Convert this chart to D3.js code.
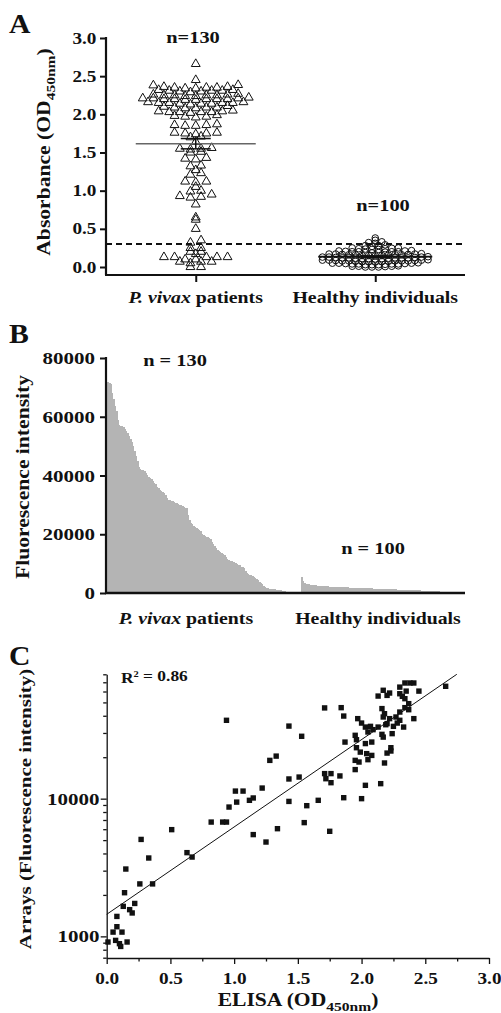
<!DOCTYPE html>
<html><head><meta charset="utf-8">
<script src="https://cdn.jsdelivr.net/npm/d3@7"></script>
<style>
html,body{margin:0;padding:0;background:#fff;}
svg{display:block;}
text{font-family:"Liberation Serif","Times New Roman",serif;font-weight:bold;fill:#111;}
</style></head><body>
<svg id="chart" width="501" height="1013"></svg>
<script>
// ---------------- DATA ----------------
const groups = ["P. vivax patients", "Healthy individuals"];
const groupN = [130, 100];

// Panel A: ELISA OD450nm per individual
const elisaPatients = [
  2.66, 2.45,
  2.38, 2.385, 2.36, 2.35, 2.34, 2.35, 2.36, 2.34, 2.35,
  2.30, 2.31, 2.32, 2.31, 2.30, 2.32, 2.31, 2.29,
  2.25, 2.26, 2.24, 2.25, 2.27, 2.25, 2.24, 2.26, 2.25,
  2.20, 2.21, 2.19, 2.20, 2.22, 2.20, 2.21, 2.19, 2.20, 2.21, 2.20,
  2.15, 2.14, 2.16, 2.15, 2.13, 2.15, 2.16, 2.14, 2.15, 2.14,
  2.09, 2.10, 2.08, 2.09, 2.11, 2.09, 2.08,
  2.03, 2.04, 2.02, 2.03, 2.05, 2.03, 2.04, 2.03,
  1.97, 1.98, 1.96, 1.97, 1.99,
  1.85, 1.86, 1.87, 1.86, 1.85,
  1.76, 1.75, 1.74, 1.75, 1.76,
  1.70, 1.71, 1.64,
  1.55, 1.56, 1.54, 1.55, 1.50, 1.51,
  1.42, 1.43, 1.41, 1.32, 1.33, 1.27, 1.23, 1.21,
  1.12, 1.12, 1.11, 1.05, 0.99, 1.00,
  0.95, 0.92, 0.93, 0.91, 0.82, 0.65, 0.62, 0.50,
  0.35, 0.32, 0.25, 0.25, 0.20, 0.20, 0.17,
  0.13, 0.13, 0.13, 0.13, 0.13, 0.10, 0.10,
  0.07, 0.07, 0.07, 0.05, 0.00, 0.00
];
const elisaHealthy = [
  0.00, 0.01, 0.00, 0.01, 0.015, 0.005, 0.01, 0.00,
  0.03, 0.04, 0.05, 0.04, 0.03, 0.05, 0.04, 0.045, 0.035, 0.05, 0.04, 0.03, 0.055, 0.045,
  0.07, 0.08, 0.09, 0.08, 0.07, 0.085, 0.075, 0.09, 0.08, 0.065, 0.095, 0.08, 0.07, 0.09, 0.085, 0.075, 0.08,
  0.11, 0.12, 0.13, 0.12, 0.11, 0.125, 0.115, 0.13, 0.12, 0.105, 0.135, 0.12, 0.11, 0.13, 0.125, 0.115, 0.12,
  0.15, 0.16, 0.17, 0.16, 0.15, 0.165, 0.155, 0.17, 0.16, 0.145, 0.175, 0.16, 0.15, 0.17, 0.165,
  0.19, 0.20, 0.21, 0.20, 0.19, 0.205, 0.195, 0.21, 0.20, 0.185, 0.215, 0.20,
  0.23, 0.24, 0.25, 0.24, 0.23, 0.245, 0.235, 0.25,
  0.27, 0.28, 0.29, 0.28,
  0.31, 0.32, 0.33,
  0.35, 0.38
];
const cutoffOD = 0.30;
const ticksA = [0, 0.5, 1.0, 1.5, 2.0, 2.5, 3.0];

// Panel B: array fluorescence intensity, sorted
const arrayPatients = [
  72000,71800,71500,71200,68000,66000,63500,62000,59000,57200,
  57000,56700,56500,56000,55300,54600,53500,52500,51500,50000,
  48500,46500,45000,43000,42300,42000,41800,41500,41000,40200,
  39500,39200,38700,38000,37600,37000,36200,35600,35200,34800,
  34500,34000,33200,32300,31800,31600,31400,31200,31000,30800,
  30500,30300,30100,29800,29500,29200,29000,28800,26500,24800,
  24000,23400,22800,22500,22200,21900,21500,21000,20200,19800,
  19400,19100,18900,18700,18300,17500,16800,16000,15200,14700,
  14300,14000,13700,13300,12900,12200,11700,11300,11000,10800,
  10600,10400,10200,10000,9700,9400,9000,8700,8400,7600,
  6800,6300,6100,6000,5800,5500,5200,4800,4300,3800,
  3300,2900,2500,2100,1800,1600,1500,1400,1300,1250,
  1200,1100,1000,950,900,800,700,600,500,400
];
const arrayHealthy = [
  5300,4000,3500,3200,3000,2900,2820,2760,2700,2650,
  2600,2540,2470,2400,2370,2340,2310,2290,2260,2240,
  2210,2190,2160,2140,2110,2090,2060,2040,2010,1990,
  1960,1930,1900,1880,1860,1840,1820,1800,1780,1760,
  1740,1720,1700,1680,1660,1640,1620,1600,1580,1560,
  1540,1520,1500,1480,1460,1450,1430,1410,1390,1370,
  1350,1330,1310,1290,1270,1250,1230,1210,1190,1170,
  1150,1130,1110,1090,1070,1050,1040,1030,1010,1000,
  980,950,930,900,880,850,830,800,780,750,
  730,700,680,650,630,600,580,550,520,500
];
const ticksB = [0, 20000, 40000, 60000, 80000];

// Panel C: ELISA vs arrays (patients)
const scatterElisa = [
  0.01,0.05,0.08,0.08,0.07,0.10,0.11,0.12,0.16,
  0.13,0.14,0.15,0.18,0.20,0.22,
  0.26,0.27,0.33,0.36,
  0.51,0.63,0.67,
  0.82,0.91,0.94,
  0.94,0.96,
  1.01,1.02,1.07,
  1.12,1.15,1.15,
  1.22,1.25,
  1.28,1.33,1.34,
  1.43,1.43,1.43,1.51,
  1.53,1.55,1.57,1.66,
  1.71,1.71,1.72,1.75,1.76,1.76,1.83,
  1.84,1.86,1.86,1.87,
  2.13,2.17,2.22,2.20,2.30,2.34,2.38,2.41,2.30,2.35,2.32,2.45,2.66,2.34,2.37,2.34,2.37,2.41,2.33,
  2.16,2.18,2.17,2.30,2.27,2.30,2.28,2.25,
  2.22,2.20,2.24,
  1.97,2.00,2.03,2.07,2.09,2.13,2.16,2.19,
  2.05,1.95,1.96,2.03,2.08,
  2.17,
  1.96,1.99,2.04,2.08,2.05,1.95,1.98,
  2.23,2.23,2.20,2.18,
  1.95,2.03,2.15,2.00
];
const scatterArray = [
  910,1074,1175,1396,935,885,845,1074,910,
  1652,2075,3083,1563,1479,1734,
  2404,5058,3707,2404,
  5957,4055,3767,
  6761,6761,6761,
  37068,8690,
  11350,9440,11350,
  9727,10116,5483,
  11940,4842,
  18967,20370,6053,
  33650,13900,9550,14350,
  28380,6699,8892,9727,
  45600,15200,13960,5794,15200,13060,14620,
  45800,39800,10160,25760,
  55590,61240,58480,56230,64570,69180,69180,69180,57810,60390,55340,60390,65460,53210,48980,45810,44260,38110,33110,
  45080,41400,39170,42560,39170,37070,35400,33500,
  38110,35080,29650,
  38110,35400,33110,33500,31700,33110,29310,34430,
  30480,28840,26790,25120,25760,
  27990,
  23440,21780,21230,20610,19190,18970,18450,
  23440,22180,21430,18160,
  16260,12500,12850,10000
];
const fitIntercept = 3.16;   // log10(arrays) at OD = 0
const fitSlope = 0.6345;     // per OD unit
const r2Value = "0.86";
const ticksCx = [0, 0.25, 0.5, 0.75, 1.0, 1.25, 1.5, 1.75, 2.0, 2.25, 2.5, 2.75, 3.0];
const ticksCy = [700,800,900,1000,2000,3000,4000,5000,6000,7000,8000,9000,10000,20000,30000,40000,50000,60000,70000,80000];
const labelsCy = [1000, 10000];

// ---------------- HELPERS ----------------
const SX = 1.2;
const svg = d3.select("#chart");
const INK = "#111";

function addText(g, x, y, parts, o) {
  o = o || {};
  const size = o.size || 16;
  const t = g.append("text")
    .attr("transform", `translate(${x},${y}) rotate(${o.rotate || 0}) scale(${o.sx || SX},1)`)
    .attr("text-anchor", o.anchor || "start")
    .style("font-size", size + "px");
  parts.forEach(p => {
    const ts = t.append("tspan").text(p.t);
    if (p.sub) ts.style("font-size", (size * 0.72) + "px").attr("dy", size * 0.3);
    if (p.sup) ts.style("font-size", (size * 0.6) + "px").attr("dy", -size * 0.4);
    if (p.back) ts.attr("dy", p.back * size);
    if (p.italic) ts.style("font-style", "italic");
  });
  return t;
}
function styleAxis(g, size, sw) {
  g.attr("font-family", null).attr("font-size", null);
  g.selectAll("line").attr("stroke", INK).attr("stroke-width", sw);
  g.selectAll("path.domain").attr("stroke", INK).attr("stroke-width", sw);
  g.selectAll("text").style("font-size", size + "px").attr("fill", INK)
    .attr("transform", `scale(${SX},1)`);
}
function rowLayout(values, binW, spacing) {
  const bins = d3.group(values.map(v => ({ v })), d => Math.round(d.v / binW));
  const out = [];
  for (const [, arr] of bins) {
    arr.sort((a, b) => a.v - b.v);
    const n = arr.length;
    const slots = d3.range(n).map(j => (j - (n - 1) / 2) * spacing);
    slots.sort((a, b) => Math.abs(a) - Math.abs(b) || a - b);
    arr.forEach((d, j) => out.push({ v: d.v, dx: slots[j] }));
  }
  return out;
}

// ---------------- PANEL A ----------------
const gA = svg.append("g");
const xA = d3.scalePoint().domain(groups).range([106, 465]).padding(0.5);
const yA = d3.scaleLinear().domain([0, 3]).range([267, 38]);
const baseA = yA(0) + 8;

addText(gA, 9, 33, [{ t: "A" }], { size: 27, sx: 1.1 });

const ayA = gA.append("g").attr("transform", "translate(106,0)")
  .call(d3.axisLeft(yA).tickValues(ticksA).tickFormat(d3.format(".1f")).tickSize(6).tickPadding(2).tickSizeOuter(0));
ayA.select(".domain").remove();
styleAxis(ayA, 16, 2);
gA.append("line").attr("x1", 106).attr("x2", 106).attr("y1", yA(3) - 1).attr("y2", baseA)
  .attr("stroke", INK).attr("stroke-width", 2.2);

const axA = gA.append("g").attr("transform", `translate(0,${baseA})`)
  .call(d3.axisBottom(xA).tickSize(7).tickFormat("").tickSizeOuter(0));
axA.select(".domain").remove();
styleAxis(axA, 16, 2);
gA.append("line").attr("x1", 105).attr("x2", 465).attr("y1", baseA).attr("y2", baseA)
  .attr("stroke", INK).attr("stroke-width", 2.2);

addText(gA, 50, 152, [{ t: "Absorbance (OD" }, { t: "450nm", sub: true }, { t: ")", back: -0.3 }],
  { size: 18, rotate: -90, anchor: "middle" });

// cutoff line
gA.append("line").attr("x1", 106).attr("x2", 465).attr("y1", yA(cutoffOD)).attr("y2", yA(cutoffOD))
  .attr("stroke", INK).attr("stroke-width", 2).attr("stroke-dasharray", "6,4");

// patients: triangles
const triPts = rowLayout(elisaPatients, 0.055, 10.6);
gA.append("g").selectAll("path").data(triPts).join("path")
  .attr("d", d3.symbol(d3.symbolTriangle, 34))
  .attr("transform", d => `translate(${xA(groups[0]) + d.dx},${yA(d.v)})`)
  .attr("fill", "none").attr("stroke", INK).attr("stroke-width", 1);

// healthy: circles
const cirPts = rowLayout(elisaHealthy, 0.04, 6.6);
gA.append("g").selectAll("circle").data(cirPts).join("circle")
  .attr("cx", d => xA(groups[1]) + d.dx).attr("cy", d => yA(d.v)).attr("r", 3.3)
  .attr("fill", "none").attr("stroke", INK).attr("stroke-width", 1);

// mean +/- SEM
function meanBar(vals, cx, half, color) {
  const m = d3.mean(vals), sem = d3.deviation(vals) / Math.sqrt(vals.length);
  gA.append("line").attr("x1", cx - half).attr("x2", cx + half).attr("y1", yA(m)).attr("y2", yA(m))
    .attr("stroke", color).attr("stroke-width", 1.6);
  gA.append("line").attr("x1", cx).attr("x2", cx).attr("y1", yA(m - sem)).attr("y2", yA(m + sem))
    .attr("stroke", INK).attr("stroke-width", 1.5);
  [m - sem, m + sem].forEach(v => gA.append("line").attr("x1", cx - 15).attr("x2", cx + 15)
    .attr("y1", yA(v)).attr("y2", yA(v)).attr("stroke", INK).attr("stroke-width", 1.5));
}
meanBar(elisaPatients, xA(groups[0]), 60, "#666");
meanBar(elisaHealthy, xA(groups[1]), 57, INK);

addText(gA, 193, 43, [{ t: "n=" + groupN[0] }], { size: 17, anchor: "middle" });
addText(gA, 383, 211, [{ t: "n=" + groupN[1] }], { size: 17, anchor: "middle" });

addText(gA, xA(groups[0]), 303, [{ t: "P. vivax", italic: true }, { t: " patients" }], { size: 16.5, anchor: "middle" });
addText(gA, xA(groups[1]), 303, [{ t: groups[1] }], { size: 16.5, anchor: "middle" });

// ---------------- PANEL B ----------------
const gB = svg.append("g");
const yB = d3.scaleLinear().domain([0, 80000]).range([593, 358]);
const slotCount = 256, healthyStart = arrayPatients.length + 9;
const xB = d3.scaleLinear().domain([0, slotCount]).range([106, 465]);
const bw = xB(1) - xB(0);

addText(gB, 9, 343, [{ t: "B" }], { size: 27, sx: 1.1 });

const barsB = arrayPatients.map((v, i) => ({ v, s: i }))
  .concat(arrayHealthy.map((v, j) => ({ v, s: healthyStart + j })));
gB.append("g").attr("shape-rendering", "crispEdges").selectAll("rect").data(barsB).join("rect")
  .attr("x", d => xB(d.s)).attr("width", bw + 0.4)
  .attr("y", d => yB(d.v)).attr("height", d => yB(0) - yB(d.v))
  .attr("fill", "#b4b4b4");

const ayB = gB.append("g").attr("transform", "translate(106,0)")
  .call(d3.axisLeft(yB).tickValues(ticksB).tickFormat(d3.format("d")).tickSize(6).tickPadding(3.2).tickSizeOuter(0));
ayB.select(".domain").remove();
styleAxis(ayB, 17.5, 2);
gB.append("line").attr("x1", 106).attr("x2", 106).attr("y1", yB(80000) - 1).attr("y2", yB(0))
  .attr("stroke", INK).attr("stroke-width", 2.2);
gB.append("line").attr("x1", 105).attr("x2", 465).attr("y1", yB(0)).attr("y2", yB(0))
  .attr("stroke", INK).attr("stroke-width", 2.4);

addText(gB, 29, 477, [{ t: "Fluorescence intensity" }], { size: 18, rotate: -90, anchor: "middle" });
addText(gB, 175, 366, [{ t: "n = " + groupN[0] }], { size: 17, anchor: "middle" });
addText(gB, 373, 554, [{ t: "n = " + groupN[1] }], { size: 17, anchor: "middle" });

const xBl = d3.scalePoint().domain(groups).range([90, 474]).padding(0.5);
addText(gB, xBl(groups[0]), 624, [{ t: "P. vivax", italic: true }, { t: " patients" }], { size: 16.5, anchor: "middle" });
addText(gB, xBl(groups[1]), 624, [{ t: groups[1] }], { size: 16.5, anchor: "middle" });

// ---------------- PANEL C ----------------
const gC = svg.append("g");
const xC = d3.scaleLinear().domain([0, 3]).range([106.7, 489]);
const yC = d3.scaleLog().domain([700, 80000]).range([957.7, 674.3]);

addText(gC, 9, 665, [{ t: "C" }], { size: 27, sx: 1.1 });

const ayC = gC.append("g").attr("transform", "translate(106.7,0)")
  .call(d3.axisLeft(yC).tickValues(ticksCy).tickFormat(d => labelsCy.includes(d) ? d3.format("d")(d) : "")
    .tickSize(6).tickPadding(0).tickSizeOuter(0));
styleAxis(ayC, 17.5, 1.3);
ayC.selectAll(".tick").filter(d => !labelsCy.includes(d)).select("line").attr("x2", -3.5);

const axC = gC.append("g").attr("transform", "translate(0,958)")
  .call(d3.axisBottom(xC).tickValues(ticksCx)
    .tickFormat(d => (Math.round(d * 2) === d * 2) ? d3.format(".1f")(d) : "")
    .tickSize(6).tickPadding(9).tickSizeOuter(0));
styleAxis(axC, 16, 1.3);
axC.selectAll(".tick").filter(d => Math.round(d * 2) !== d * 2).select("line").attr("y2", 3.5);

// regression line
const xEnd = (Math.log10(80000) - fitIntercept) / fitSlope;
gC.append("path")
  .datum([0, xEnd])
  .attr("d", d3.line().x(d => xC(d)).y(d => yC(Math.pow(10, fitIntercept + fitSlope * d))))
  .attr("stroke", INK).attr("stroke-width", 1).attr("fill", "none");

// squares
const sq = 5.4;
gC.append("g").selectAll("rect").data(scatterElisa.map((e, i) => ({ e, a: scatterArray[i] }))).join("rect")
  .attr("x", d => xC(d.e) - sq / 2).attr("y", d => yC(d.a) - sq / 2)
  .attr("width", sq).attr("height", sq).attr("fill", INK);

addText(gC, 121, 683, [{ t: "R" }, { t: "2", sup: true }, { t: " = " + r2Value, back: 0.24 }], { size: 14.5 });
addText(gC, 30.5, 809, [{ t: "Arrays (Fluorescence intensity)" }], { size: 17.5, rotate: -90, anchor: "middle" });
addText(gC, 298, 1006, [{ t: "ELISA (OD" }, { t: "450nm", sub: true }, { t: ")", back: -0.3 }], { size: 18, anchor: "middle" });
</script>
</body></html>
